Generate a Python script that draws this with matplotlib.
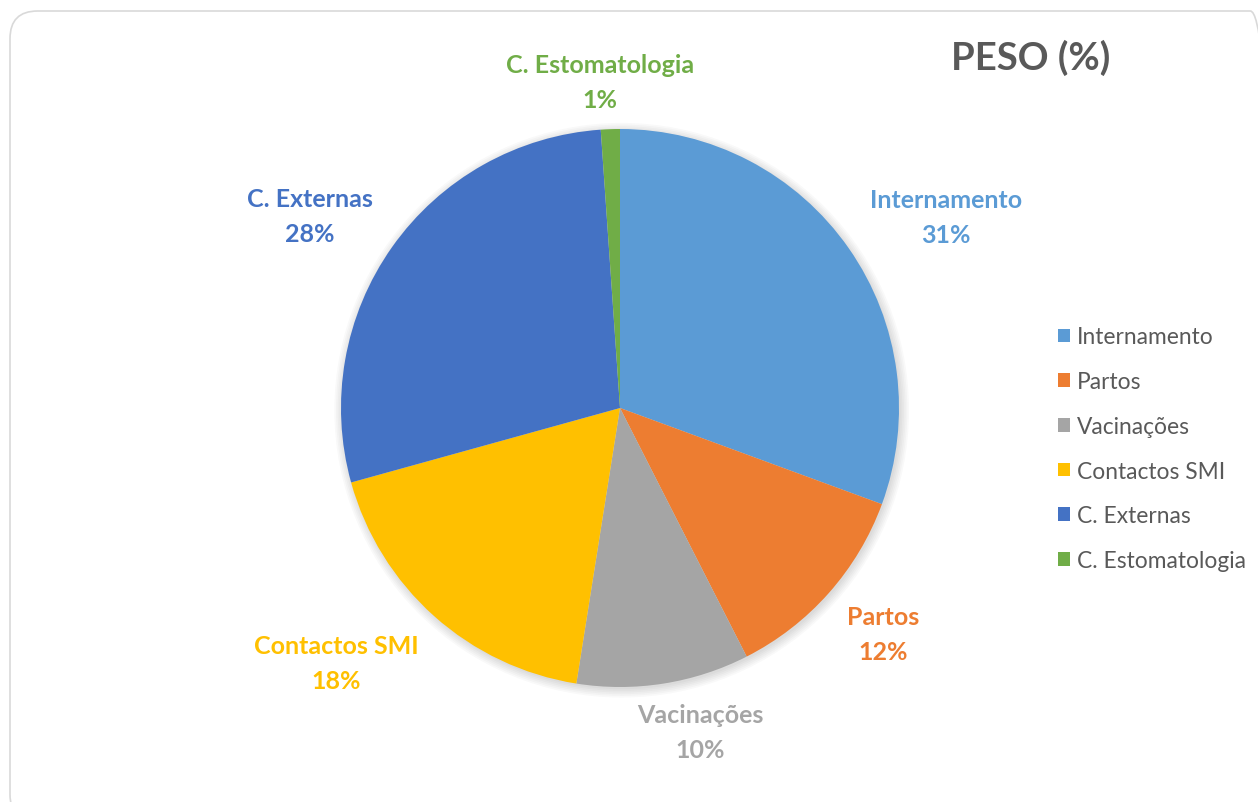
import numpy as np
import matplotlib.pyplot as plt
from matplotlib.patches import FancyBboxPatch, Circle

categories = ['Internamento', 'Partos', 'Vacinações', 'Contactos SMI',
              'C. Externas', 'C. Estomatologia']
peso = [30.6, 11.9, 10.0, 18.2, 28.2, 1.1]
pct_labels = ['31%', '12%', '10%', '18%', '28%', '1%']
colors = ['#5B9BD5', '#ED7D31', '#A5A5A5', '#FFC000', '#4472C4', '#70AD47']
# label placement: distance (in radii) and angle tweak from wedge middle (deg)
label_dist = [1.354, 1.243, 1.196, 1.368, 1.307, 1.170]
label_shift = [-4.5, 0.9, 4.9, -6.3, 3.5, 1.5]

plt.rcParams['font.family'] = ['Lato', 'DejaVu Sans']

W, H = 1258, 803
fig = plt.figure(figsize=(W / 100, H / 100), dpi=100)

# rounded chart border (runs off the right/bottom edge)
border = FancyBboxPatch((10 / W, -20 / H), (W + 20 - 10) / W, (H - 12 + 20) / H,
                        boxstyle='round,pad=0,rounding_size=0.022',
                        transform=fig.transFigure, fill=False,
                        edgecolor='#D9D9D9', linewidth=1.2, mutation_aspect=W / H)
fig.patches.append(border)

cx, cy, r = 620, 409, 279
ax = fig.add_axes([(cx - r) / W, (H - cy - r) / H, 2 * r / W, 2 * r / H])

wedges, _ = ax.pie(peso, colors=colors, startangle=90, counterclock=False,
                   radius=1, wedgeprops=dict(linewidth=0))
for w in wedges:
    w.set_zorder(2)
ax.set_xlim(-1, 1)
ax.set_ylim(-1, 1)
ax.set_aspect('equal')
ax.axis('off')

# soft shadow
for k in range(6):
    ax.add_patch(Circle((0.006, -0.008), 1.0 + 0.006 * k, color='black',
                        alpha=0.025, lw=0, zorder=0, clip_on=False))

for w, name, pct, d, s, col in zip(wedges, categories, pct_labels,
                                   label_dist, label_shift, colors):
    ang = np.deg2rad((w.theta1 + w.theta2) / 2 + s)
    ax.text(d * np.cos(ang), d * np.sin(ang), f'{name}\n{pct}', ha='center',
            va='center', fontsize=18, fontweight='bold', color=col,
            linespacing=1.62, clip_on=False)

fig.text(1031 / W, 1 - 58 / H, 'PESO (%)', ha='center', va='center',
         fontsize=27.5, fontweight='bold', color='#595959')

leg = fig.legend(wedges, categories, loc='upper left',
                 bbox_to_anchor=(1037 / W, 1 - 307 / H), frameon=False,
                 fontsize=16.4, handlelength=0.55, handleheight=0.55,
                 handletextpad=0.3, labelspacing=1.04, labelcolor='#595959')

fig.savefig('out.png', dpi=100)
